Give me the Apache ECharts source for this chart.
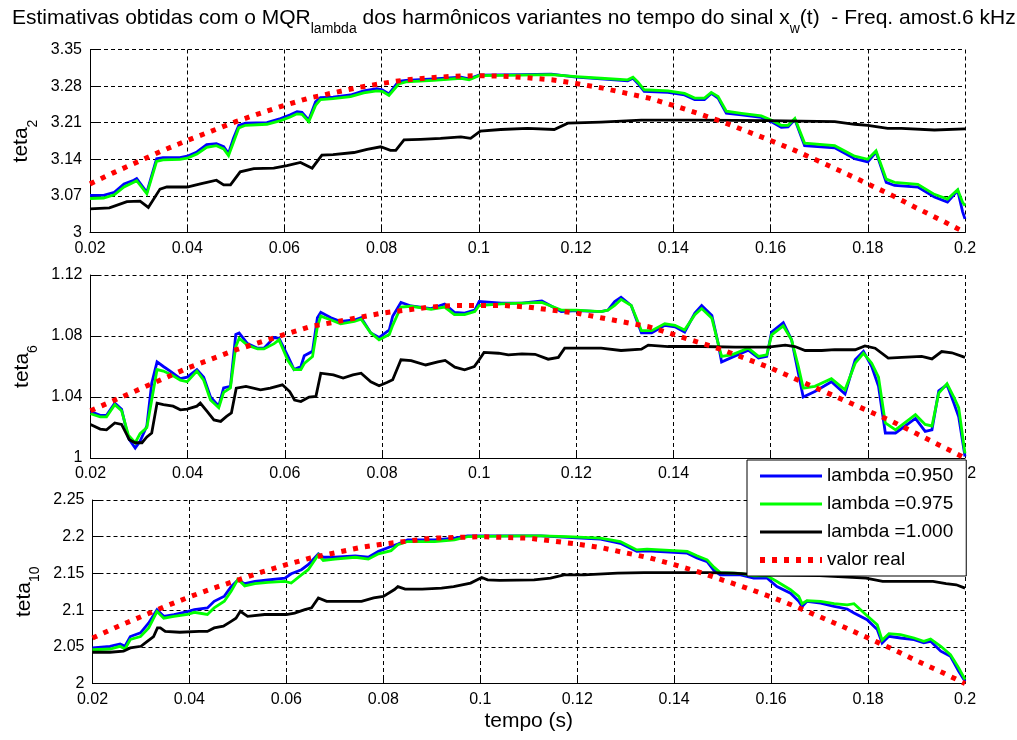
<!DOCTYPE html>
<html>
<head>
<meta charset="utf-8">
<script src="https://cdn.jsdelivr.net/npm/echarts@6/dist/echarts.min.js"></script>
<style>html,body{margin:0;padding:0;background:#fff}#c{width:1017px;height:740px}</style>
</head>
<body>
<div id="c"></div>
<script>
// ---------- DATA ----------
var seriesNames = ['lambda =0.950', 'lambda =0.975', 'lambda =1.000', 'valor real'];
var xTicks = {min: 0.02, max: 0.2, interval: 0.02};

// teta_2
var t2Blue = [[0.02,3.071],[0.0228,3.071],[0.025,3.077],[0.027,3.093],[0.029,3.1],[0.0296,3.103],[0.0317,3.077],[0.0337,3.141],[0.035,3.143],[0.0385,3.143],[0.04,3.146],[0.042,3.154],[0.044,3.168],[0.046,3.17],[0.0475,3.164],[0.0485,3.151],[0.0495,3.18],[0.0506,3.205],[0.052,3.209],[0.0564,3.21],[0.0592,3.218],[0.0612,3.225],[0.0626,3.231],[0.0636,3.23],[0.065,3.215],[0.0664,3.25],[0.0674,3.258],[0.070,3.259],[0.0736,3.263],[0.0763,3.271],[0.079,3.275],[0.0801,3.273],[0.0815,3.265],[0.0835,3.289],[0.085,3.291],[0.0907,3.294],[0.0963,3.297],[0.098,3.294],[0.1,3.301],[0.1086,3.302],[0.1149,3.303],[0.12,3.297],[0.1251,3.294],[0.1306,3.29],[0.1317,3.295],[0.1327,3.285],[0.134,3.27],[0.1389,3.268],[0.1423,3.263],[0.1444,3.254],[0.1464,3.254],[0.1478,3.266],[0.1492,3.257],[0.1509,3.228],[0.154,3.225],[0.1581,3.22],[0.1601,3.212],[0.1622,3.201],[0.1636,3.202],[0.165,3.216],[0.167,3.166],[0.1732,3.162],[0.1773,3.141],[0.18,3.135],[0.1817,3.154],[0.1838,3.096],[0.1855,3.09],[0.1903,3.087],[0.1937,3.068],[0.1964,3.058],[0.1985,3.08],[0.1995,3.04],[0.2,3.026]];
var t2Green = [[0.02,3.065],[0.0228,3.066],[0.025,3.072],[0.027,3.087],[0.029,3.096],[0.0296,3.099],[0.0317,3.074],[0.0337,3.136],[0.035,3.139],[0.0385,3.14],[0.04,3.142],[0.042,3.15],[0.044,3.163],[0.046,3.166],[0.0475,3.16],[0.0485,3.147],[0.0495,3.172],[0.0506,3.2],[0.052,3.205],[0.0564,3.207],[0.0592,3.214],[0.0612,3.221],[0.0626,3.227],[0.0636,3.226],[0.065,3.212],[0.0664,3.243],[0.0674,3.254],[0.070,3.256],[0.0736,3.26],[0.0763,3.267],[0.079,3.271],[0.0801,3.27],[0.0815,3.262],[0.0835,3.284],[0.085,3.288],[0.0907,3.291],[0.0963,3.295],[0.098,3.292],[0.1,3.3],[0.1086,3.301],[0.1149,3.302],[0.12,3.298],[0.1251,3.295],[0.1306,3.292],[0.1317,3.297],[0.1327,3.288],[0.134,3.273],[0.1389,3.271],[0.1423,3.266],[0.1444,3.257],[0.1464,3.257],[0.1478,3.268],[0.1492,3.26],[0.1509,3.232],[0.154,3.228],[0.1581,3.223],[0.1601,3.215],[0.1622,3.205],[0.1636,3.205],[0.165,3.218],[0.167,3.171],[0.1732,3.166],[0.1773,3.146],[0.18,3.14],[0.1817,3.156],[0.1838,3.102],[0.1855,3.096],[0.1903,3.092],[0.1937,3.073],[0.1964,3.064],[0.1985,3.082],[0.1995,3.058],[0.2,3.051]];
var t2Black = [[0.02,3.045],[0.024,3.047],[0.0276,3.059],[0.0303,3.06],[0.032,3.048],[0.0344,3.083],[0.0358,3.087],[0.04,3.087],[0.0427,3.093],[0.046,3.1],[0.0475,3.091],[0.0489,3.091],[0.0509,3.116],[0.0537,3.122],[0.0578,3.123],[0.0605,3.128],[0.0633,3.134],[0.0657,3.123],[0.0677,3.148],[0.070,3.149],[0.0743,3.153],[0.077,3.159],[0.0798,3.164],[0.0818,3.157],[0.0829,3.157],[0.0846,3.177],[0.088,3.178],[0.0921,3.18],[0.0963,3.183],[0.0983,3.18],[0.1003,3.194],[0.1045,3.197],[0.11,3.199],[0.1155,3.197],[0.1183,3.209],[0.1251,3.211],[0.1334,3.215],[0.1457,3.215],[0.1594,3.214],[0.1732,3.212],[0.1773,3.207],[0.18,3.205],[0.1841,3.199],[0.1869,3.199],[0.1937,3.196],[0.2,3.198]];
var t2Real = [[0.02,3.093],[0.025,3.115],[0.03,3.136],[0.035,3.157],[0.04,3.176],[0.045,3.194],[0.05,3.212],[0.055,3.228],[0.06,3.243],[0.065,3.257],[0.07,3.267],[0.075,3.277],[0.08,3.285],[0.085,3.292],[0.09,3.296],[0.095,3.299],[0.1,3.300],[0.105,3.299],[0.11,3.296],[0.115,3.292],[0.12,3.285],[0.125,3.277],[0.13,3.267],[0.135,3.257],[0.14,3.243],[0.145,3.228],[0.15,3.212],[0.155,3.194],[0.16,3.176],[0.165,3.157],[0.17,3.136],[0.175,3.115],[0.18,3.093],[0.185,3.071],[0.19,3.047],[0.195,3.024],[0.2,3.000]];

// teta_6
var t6Blue = [[0.02,1.0305],[0.022,1.028],[0.0233,1.028],[0.025,1.036],[0.0264,1.032],[0.0278,1.013],[0.0292,1.0065],[0.0302,1.011],[0.0316,1.021],[0.0326,1.049],[0.0337,1.063],[0.035,1.06],[0.0364,1.057],[0.0385,1.052],[0.0399,1.053],[0.0419,1.058],[0.0433,1.053],[0.0447,1.04],[0.0464,1.034],[0.0474,1.046],[0.0488,1.047],[0.0499,1.081],[0.0506,1.082],[0.0523,1.075],[0.0544,1.072],[0.0557,1.072],[0.0578,1.079],[0.0588,1.0785],[0.0606,1.067],[0.0619,1.058],[0.0633,1.06],[0.064,1.067],[0.0657,1.07],[0.0667,1.092],[0.0674,1.0955],[0.0695,1.092],[0.0715,1.0895],[0.0743,1.0905],[0.0757,1.092],[0.0777,1.082],[0.0794,1.079],[0.0815,1.084],[0.0822,1.093],[0.0839,1.102],[0.086,1.0997],[0.0901,1.098],[0.0929,1.101],[0.0949,1.0955],[0.097,1.095],[0.0991,1.097],[0.1,1.1026],[0.1046,1.1015],[0.1088,1.1015],[0.1129,1.103],[0.1169,1.096],[0.12,1.0967],[0.1251,1.096],[0.1265,1.097],[0.1279,1.1026],[0.1292,1.1054],[0.1313,1.1],[0.1324,1.0905],[0.1334,1.082],[0.1355,1.082],[0.1382,1.087],[0.1403,1.086],[0.1423,1.0826],[0.1444,1.095],[0.1458,1.1],[0.1479,1.0935],[0.1492,1.075],[0.1499,1.063],[0.152,1.066],[0.1554,1.0707],[0.1575,1.0655],[0.1592,1.0666],[0.1602,1.0826],[0.1626,1.0888],[0.1643,1.0775],[0.1657,1.0556],[0.1667,1.04],[0.1691,1.0436],[0.1725,1.05],[0.1753,1.042],[0.1774,1.0644],[0.1791,1.07],[0.1808,1.06],[0.1822,1.047],[0.1836,1.0164],[0.1857,1.0164],[0.1898,1.026],[0.1918,1.0175],[0.1932,1.0185],[0.1946,1.044],[0.1963,1.048],[0.1977,1.036],[0.1987,1.027],[0.2,1.001]];
var t6Green = [[0.02,1.029],[0.022,1.027],[0.0233,1.027],[0.025,1.035],[0.0264,1.031],[0.0278,1.015],[0.0292,1.01],[0.0302,1.016],[0.0316,1.02],[0.0326,1.038],[0.0337,1.058],[0.035,1.057],[0.0364,1.055],[0.0385,1.051],[0.0399,1.05],[0.0419,1.057],[0.0433,1.051],[0.0447,1.038],[0.0464,1.033],[0.0474,1.043],[0.0488,1.046],[0.0499,1.073],[0.0506,1.0785],[0.0523,1.074],[0.0544,1.0715],[0.0557,1.0715],[0.0578,1.075],[0.0588,1.0775],[0.0606,1.064],[0.0619,1.058],[0.0633,1.058],[0.064,1.062],[0.0657,1.0665],[0.0667,1.086],[0.0674,1.093],[0.0695,1.0905],[0.0715,1.088],[0.0743,1.0895],[0.0757,1.091],[0.0777,1.082],[0.0794,1.0775],[0.0815,1.081],[0.0822,1.087],[0.0839,1.099],[0.086,1.0995],[0.0901,1.0975],[0.0929,1.099],[0.0949,1.094],[0.097,1.094],[0.0991,1.096],[0.1,1.1],[0.1046,1.101],[0.1088,1.1015],[0.1129,1.102],[0.1169,1.097],[0.12,1.097],[0.1251,1.096],[0.1265,1.097],[0.1279,1.1],[0.1292,1.104],[0.1313,1.1],[0.1324,1.0915],[0.1334,1.0835],[0.1355,1.0835],[0.1382,1.088],[0.1403,1.087],[0.1423,1.084],[0.1444,1.094],[0.1458,1.098],[0.1479,1.0916],[0.1492,1.075],[0.1499,1.0666],[0.152,1.0676],[0.1554,1.072],[0.1575,1.0666],[0.1592,1.0676],[0.1602,1.0807],[0.1626,1.0866],[0.1643,1.0775],[0.1657,1.06],[0.1667,1.0458],[0.1691,1.047],[0.1725,1.052],[0.1753,1.0447],[0.1774,1.0622],[0.1791,1.0687],[0.1808,1.0622],[0.1822,1.053],[0.1836,1.023],[0.1857,1.0185],[0.1898,1.0284],[0.1918,1.022],[0.1932,1.021],[0.1946,1.0425],[0.1963,1.0487],[0.1977,1.04],[0.1987,1.033],[0.2,1.003]];
var t6Black = [[0.02,1.022],[0.022,1.019],[0.0233,1.0185],[0.025,1.023],[0.0264,1.022],[0.028,1.012],[0.0292,1.01],[0.0306,1.01],[0.0316,1.0138],[0.0326,1.0164],[0.0337,1.036],[0.035,1.035],[0.037,1.034],[0.0385,1.0316],[0.0399,1.032],[0.0419,1.034],[0.0426,1.036],[0.044,1.0305],[0.0454,1.025],[0.0468,1.024],[0.048,1.0273],[0.049,1.0295],[0.05,1.0458],[0.052,1.047],[0.055,1.0447],[0.057,1.0458],[0.0595,1.048],[0.061,1.0436],[0.062,1.038],[0.0633,1.037],[0.065,1.04],[0.0664,1.0404],[0.0674,1.0556],[0.07,1.0545],[0.072,1.0524],[0.074,1.0545],[0.0757,1.0556],[0.0777,1.05],[0.0794,1.0474],[0.081,1.0495],[0.0822,1.0513],[0.0839,1.0644],[0.086,1.0639],[0.089,1.061],[0.0915,1.063],[0.093,1.064],[0.095,1.0596],[0.097,1.0578],[0.099,1.06],[0.1,1.0644],[0.101,1.0692],[0.104,1.0687],[0.106,1.0676],[0.1088,1.0683],[0.1115,1.068],[0.1142,1.0648],[0.1163,1.066],[0.1176,1.072],[0.1217,1.072],[0.1251,1.072],[0.1292,1.0705],[0.1334,1.0714],[0.1348,1.074],[0.1389,1.0731],[0.1458,1.0731],[0.1527,1.0727],[0.1595,1.0727],[0.163,1.074],[0.165,1.0731],[0.1671,1.0705],[0.1705,1.0705],[0.1732,1.071],[0.1774,1.071],[0.1794,1.0735],[0.1815,1.072],[0.1842,1.0655],[0.187,1.066],[0.1911,1.0666],[0.1932,1.065],[0.1952,1.0698],[0.1973,1.069],[0.2,1.066]];
var t6Real = [[0.02,1.031],[0.025,1.038],[0.03,1.045],[0.035,1.052],[0.04,1.059],[0.045,1.065],[0.05,1.071],[0.055,1.076],[0.06,1.081],[0.065,1.086],[0.07,1.089],[0.075,1.092],[0.08,1.095],[0.085,1.097],[0.09,1.099],[0.095,1.100],[0.1,1.100],[0.105,1.100],[0.11,1.099],[0.115,1.097],[0.12,1.095],[0.125,1.092],[0.13,1.089],[0.135,1.086],[0.14,1.081],[0.145,1.076],[0.15,1.071],[0.155,1.065],[0.16,1.059],[0.165,1.052],[0.17,1.045],[0.175,1.038],[0.18,1.031],[0.185,1.024],[0.19,1.016],[0.195,1.008],[0.2,1.000]];

// teta_10
var t10Blue = [[0.02,2.0485],[0.0236,2.0507],[0.0257,2.054],[0.0267,2.0507],[0.0278,2.064],[0.0299,2.069],[0.0316,2.0825],[0.0333,2.1006],[0.0347,2.0915],[0.0368,2.094],[0.0396,2.098],[0.041,2.1006],[0.0437,2.103],[0.0451,2.112],[0.0472,2.119],[0.0486,2.132],[0.05,2.141],[0.0514,2.136],[0.0535,2.139],[0.0562,2.141],[0.0597,2.1436],[0.061,2.1495],[0.0631,2.155],[0.0645,2.162],[0.0666,2.1767],[0.0676,2.172],[0.07,2.172],[0.0742,2.174],[0.0769,2.172],[0.079,2.18],[0.0816,2.1866],[0.083,2.19],[0.085,2.1957],[0.0906,2.1957],[0.0947,2.198],[0.0974,2.201],[0.1085,2.201],[0.1125,2.201],[0.118,2.199],[0.1248,2.1966],[0.1289,2.191],[0.1323,2.18],[0.1344,2.1807],[0.1427,2.1776],[0.1447,2.171],[0.1468,2.166],[0.1482,2.154],[0.1495,2.148],[0.1537,2.148],[0.1564,2.1436],[0.1592,2.1436],[0.1612,2.132],[0.164,2.123],[0.1657,2.112],[0.1664,2.105],[0.1674,2.112],[0.1702,2.1096],[0.173,2.105],[0.1757,2.1015],[0.1771,2.096],[0.1798,2.087],[0.1819,2.0734],[0.1829,2.0553],[0.1843,2.0643],[0.1867,2.062],[0.1895,2.0598],[0.1915,2.0553],[0.1929,2.0575],[0.195,2.044],[0.197,2.037],[0.1987,2.0168],[0.2,2.003]];
var t10Green = [[0.02,2.046],[0.0236,2.047],[0.0257,2.0507],[0.0267,2.047],[0.0278,2.06],[0.0299,2.064],[0.0316,2.0757],[0.0333,2.098],[0.0347,2.089],[0.0368,2.0915],[0.0396,2.094],[0.041,2.097],[0.0437,2.094],[0.0451,2.103],[0.0472,2.112],[0.0486,2.1255],[0.05,2.142],[0.0514,2.133],[0.0535,2.136],[0.0562,2.1377],[0.0597,2.139],[0.061,2.1368],[0.0631,2.148],[0.0645,2.155],[0.0666,2.1753],[0.0676,2.1676],[0.07,2.1694],[0.0742,2.172],[0.0769,2.1694],[0.079,2.1767],[0.0816,2.181],[0.083,2.189],[0.085,2.1934],[0.0906,2.1934],[0.0947,2.1957],[0.0974,2.2],[0.1085,2.201],[0.1125,2.201],[0.118,2.2],[0.1248,2.198],[0.1289,2.1934],[0.1323,2.182],[0.1344,2.183],[0.1427,2.18],[0.1447,2.174],[0.1468,2.1685],[0.1482,2.1585],[0.1495,2.151],[0.1537,2.15],[0.1564,2.1467],[0.1592,2.1467],[0.1612,2.139],[0.164,2.1277],[0.1657,2.1187],[0.1664,2.1087],[0.1674,2.113],[0.1702,2.112],[0.173,2.1087],[0.1757,2.107],[0.1771,2.1087],[0.1798,2.0924],[0.1819,2.08],[0.1829,2.0589],[0.1843,2.068],[0.1867,2.0666],[0.1895,2.062],[0.1915,2.0575],[0.1929,2.0607],[0.195,2.0507],[0.197,2.0394],[0.1987,2.0213],[0.2,2.0054]];
var t10Black = [[0.02,2.0426],[0.0236,2.0426],[0.0264,2.044],[0.0278,2.0485],[0.03,2.0507],[0.0313,2.0575],[0.0326,2.064],[0.0334,2.0757],[0.034,2.0757],[0.035,2.071],[0.038,2.0698],[0.042,2.071],[0.0437,2.071],[0.0451,2.0757],[0.047,2.078],[0.0486,2.0847],[0.0496,2.089],[0.0505,2.0983],[0.052,2.0915],[0.0555,2.094],[0.06,2.094],[0.0617,2.096],[0.0638,2.1006],[0.0652,2.103],[0.0666,2.1165],[0.0683,2.112],[0.072,2.112],[0.0755,2.112],[0.078,2.1165],[0.08,2.1187],[0.0823,2.128],[0.083,2.132],[0.0845,2.1287],[0.088,2.1287],[0.092,2.13],[0.0945,2.132],[0.098,2.1368],[0.1003,2.1445],[0.1015,2.1413],[0.104,2.1404],[0.1111,2.1413],[0.1145,2.1436],[0.1173,2.148],[0.1214,2.148],[0.1283,2.1504],[0.1338,2.151],[0.14,2.151],[0.1468,2.151],[0.1523,2.1504],[0.1578,2.148],[0.17,2.147],[0.1796,2.1436],[0.183,2.139],[0.1865,2.139],[0.1934,2.139],[0.1961,2.136],[0.1982,2.1345],[0.2,2.13]];
var t10Real = [[0.02,2.062],[0.025,2.077],[0.03,2.091],[0.035,2.105],[0.04,2.118],[0.045,2.130],[0.05,2.141],[0.055,2.152],[0.06,2.162],[0.065,2.171],[0.07,2.178],[0.075,2.185],[0.08,2.190],[0.085,2.194],[0.09,2.198],[0.095,2.199],[0.1,2.200],[0.105,2.199],[0.11,2.198],[0.115,2.194],[0.12,2.190],[0.125,2.185],[0.13,2.178],[0.135,2.171],[0.14,2.162],[0.145,2.152],[0.15,2.141],[0.155,2.130],[0.16,2.118],[0.165,2.105],[0.17,2.091],[0.175,2.077],[0.18,2.062],[0.185,2.047],[0.19,2.031],[0.195,2.016],[0.2,2.000]];

var yTicks2 = {min: 3, max: 3.35, interval: 0.07};
var yTicks6 = {min: 1, max: 1.12, interval: 0.04};
var yTicks10 = {min: 2, max: 2.25, interval: 0.05};

// ---------- CHART ----------
var FONT = '"Liberation Sans", Arial, Helvetica, sans-serif';
var chart = echarts.init(document.getElementById('c'), null, {renderer: 'canvas'});

function fmt(v) { return String(+(+v).toFixed(4)); }
var gridDash = {color: '#000', width: 1, type: [4, 3]};

function xAxis(idx, withName) {
  var a = {
    type: 'value', gridIndex: idx,
    min: xTicks.min, max: xTicks.max, interval: xTicks.interval,
    axisLine: {show: true, onZero: false, lineStyle: {color: '#000', width: 1}},
    axisTick: {show: true, inside: true, length: 8, lineStyle: {color: '#000'}},
    axisLabel: {color: '#000', fontSize: 16, fontFamily: FONT, margin: 8, formatter: fmt},
    splitLine: {show: true, lineStyle: gridDash}
  };
  if (withName) {
    a.name = 'tempo (s)';
    a.nameLocation = 'middle';
    a.nameGap = 26;
    a.nameTextStyle = {color: '#000', fontSize: 21, fontFamily: FONT, lineHeight: 24};
  }
  return a;
}
function yAxis(idx, ticks, sub) {
  return {
    type: 'value', gridIndex: idx,
    min: ticks.min, max: ticks.max, interval: ticks.interval,
    name: '{m|teta}{s|' + sub + '}',
    nameLocation: 'middle', nameRotate: 90, nameGap: 51,
    nameTextStyle: {
      color: '#000', fontFamily: FONT,
      rich: {
        m: {fontSize: 21, lineHeight: 24, verticalAlign: 'top', fontFamily: FONT, color: '#000'},
        s: {fontSize: 14, lineHeight: 16, padding: [15, 0, 0, 0], verticalAlign: 'top', fontFamily: FONT, color: '#000'}
      }
    },
    axisLine: {show: true, onZero: false, lineStyle: {color: '#000', width: 1}},
    axisTick: {show: true, inside: true, length: 8, lineStyle: {color: '#000'}},
    axisLabel: {color: '#000', fontSize: 16, fontFamily: FONT, margin: 8, formatter: fmt},
    splitLine: {show: true, lineStyle: gridDash}
  };
}
function lineSeries(name, data, idx, color, width, dash) {
  return {
    name: name, type: 'line', data: data,
    xAxisIndex: idx, yAxisIndex: idx,
    symbol: 'none', showSymbol: false, animation: false,
    lineStyle: {color: color, width: width, type: dash || 'solid', cap: 'butt', join: 'miter'},
    itemStyle: {color: color},
    emphasis: {disabled: true}
  };
}
var panels = [
  [t2Blue, t2Green, t2Black, t2Real],
  [t6Blue, t6Green, t6Black, t6Real],
  [t10Blue, t10Green, t10Black, t10Real]
];
var colors = ['#0000ff', '#00ff00', '#000000', '#ff0000'];
var widths = [2.8, 2.8, 2.8, 5];
var dashes = [null, null, null, [5, 7]];
var series = [];
panels.forEach(function (p, i) {
  for (var k = 0; k < 4; k++) {
    series.push(lineSeries(seriesNames[k], p[k], i, colors[k], widths[k], dashes[k]));
  }
});
var legendData = seriesNames.map(function (n, k) {
  return {
    name: n,
    lineStyle: {color: colors[k], width: k === 3 ? 6 : 3, type: dashes[k] || 'solid', cap: 'butt'},
    itemStyle: {opacity: 0, borderWidth: 0}
  };
});

var option = {
  backgroundColor: '#fff',
  animation: false,
  title: {
    left: 12, top: 8, padding: 0,
    text: '{m|Estimativas obtidas com o MQR}{s|lambda}{m| dos harmônicos variantes no tempo do sinal x}{s|w}{m|(t)  - Freq. amost.6 kHz}',
    textStyle: {
      fontFamily: FONT, color: '#000', fontWeight: 'normal',
      rich: {
        m: {fontSize: 21, lineHeight: 24, verticalAlign: 'top', fontFamily: FONT, color: '#000'},
        s: {fontSize: 14, lineHeight: 16, padding: [14, 0, 0, 0], verticalAlign: 'top', fontFamily: FONT, color: '#000'}
      }
    }
  },
  legend: {
    orient: 'vertical', left: 747, top: 460,
    padding: [6, 13, 6, 10],
    itemWidth: 62, itemHeight: 14, itemGap: 8,
    backgroundColor: '#fff', borderColor: '#000', borderWidth: 1, borderRadius: 0,
    textStyle: {color: '#000', fontSize: 19, fontFamily: FONT, lineHeight: 20},
    itemStyle: {opacity: 0, borderWidth: 0},
    data: legendData,
    selectedMode: false
  },
  grid: [
    {left: 90, right: 52, top: 49.5, height: 183},
    {left: 90.5, right: 52, top: 275, height: 183},
    {left: 92.5, right: 52, top: 500, height: 183.5}
  ],
  xAxis: [xAxis(0, false), xAxis(1, false), xAxis(2, true)],
  yAxis: [yAxis(0, yTicks2, '2'), yAxis(1, yTicks6, '6'), yAxis(2, yTicks10, '10')],
  series: series
};
chart.setOption(option);
</script>
</body>
</html>
